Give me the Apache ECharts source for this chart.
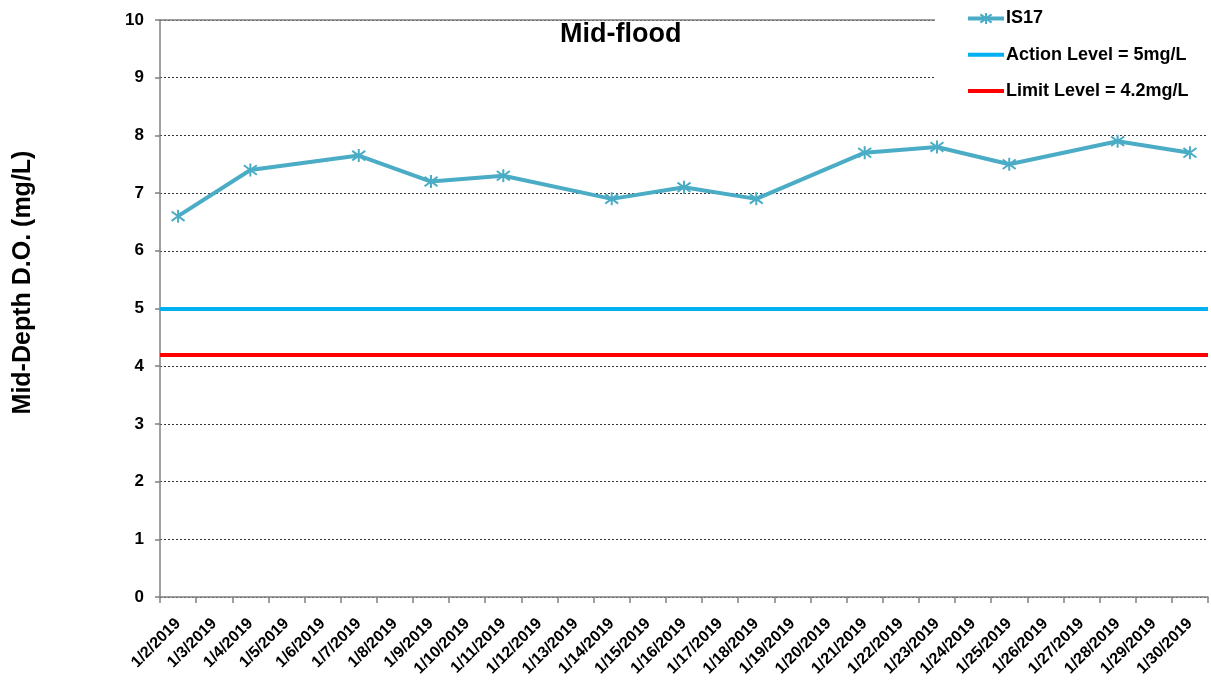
<!DOCTYPE html>
<html>
<head>
<meta charset="utf-8">
<script src="https://cdn.jsdelivr.net/npm/echarts@6/dist/echarts.min.js"></script>
<style>html,body{margin:0;padding:0;background:#fff}#c{width:1211px;height:681px}</style>
</head>
<body>
<div id="c"></div>
<script>
const categories = ['1/2/2019','1/3/2019','1/4/2019','1/5/2019','1/6/2019','1/7/2019','1/8/2019','1/9/2019','1/10/2019','1/11/2019','1/12/2019','1/13/2019','1/14/2019','1/15/2019','1/16/2019','1/17/2019','1/18/2019','1/19/2019','1/20/2019','1/21/2019','1/22/2019','1/23/2019','1/24/2019','1/25/2019','1/26/2019','1/27/2019','1/28/2019','1/29/2019','1/30/2019'];
const is17 = [6.6,null,7.4,null,null,7.65,null,7.2,null,7.3,null,null,6.9,null,7.1,null,6.9,null,null,7.7,null,7.8,null,7.5,null,null,7.9,null,7.7];
const actionLevel = 5;
const limitLevel = 4.2;
const yTicks = [0,1,2,3,4,5,6,7,8,9,10];

const FONT = '"Liberation Sans", Arial, sans-serif';
const STAR = 'path://M-4,-4 L4,4 M-4,4 L4,-4 M0,-5.5 L0,5.5';
const chart = echarts.init(document.getElementById('c'));
chart.setOption({
  animation: false,
  backgroundColor: '#fff',
  textStyle: {fontFamily: FONT},
  title: {
    text: 'Mid-flood', left: 555, top: 16,
    textStyle: {fontFamily: FONT, fontWeight: 'bold', fontSize: 27, color: '#000'}
  },
  grid: {left: 160, top: 20, right: 3, bottom: 84, containLabel: false},
  legend: {
    orient: 'vertical', left: 935, top: 0,
    padding: [9.5, 80, 14, 31],
    backgroundColor: '#fff',
    itemWidth: 36, itemHeight: 14, itemGap: 18.3,
    textStyle: {fontFamily: FONT, fontWeight: 'bold', fontSize: 18, color: '#000', padding: [0,0,0,-3]},
    data: [
      {name: 'IS17', lineStyle: {width: 4, color: '#4BACC6'}},
      {name: 'Action Level = 5mg/L', icon: 'path://M0,0 L36,0 L36,4 L0,4 Z', itemStyle: {color: '#00B0F0'}},
      {name: 'Limit Level = 4.2mg/L', icon: 'path://M0,0 L36,0 L36,4 L0,4 Z', itemStyle: {color: '#FF0000'}}
    ]
  },
  xAxis: [{
    type: 'category', data: categories, boundaryGap: true,
    axisLine: {lineStyle: {color: '#808080', width: 1.5}},
    axisTick: {show: true, length: 6, interval: 0, lineStyle: {color: '#808080', width: 1.5}},
    axisLabel: {interval: 0, rotate: 45, margin: 24, fontFamily: FONT, fontWeight: 'bold', fontSize: 16, color: '#000'}
  }, {
    type: 'category', data: categories, position: 'top',
    axisLine: {show: true, lineStyle: {color: '#808080', width: 1.5}},
    axisTick: {show: false}, axisLabel: {show: false}
  }],
  yAxis: {
    type: 'value', min: yTicks[0], max: yTicks[yTicks.length-1], interval: 1,
    name: 'Mid-Depth D.O. (mg/L)', nameLocation: 'middle', nameGap: 124, nameRotate: 90,
    nameTextStyle: {fontFamily: FONT, fontWeight: 'bold', fontSize: 25, color: '#000', padding: [0,0,0,52]},
    axisLine: {show: true, lineStyle: {color: '#808080', width: 1.5}},
    axisTick: {show: true, length: 5, lineStyle: {color: '#808080', width: 1.5}},
    axisLabel: {margin: 16, fontFamily: FONT, fontWeight: 'bold', fontSize: 17, color: '#000'},
    splitLine: {show: true, lineStyle: {color: '#000', type: [2, 2], width: 0.8}}
  },
  series: [{
    name: 'IS17', type: 'line', data: is17, connectNulls: true,
    symbol: STAR,
    symbolSize: 13,
    lineStyle: {color: '#4BACC6', width: 4},
    itemStyle: {color: '#4BACC6', borderColor: '#4BACC6', borderWidth: 2},
    z: 5
  }, {
    name: 'Action Level = 5mg/L', type: 'line', data: [], symbol: 'none',
    lineStyle: {color: '#00B0F0', width: 4}, itemStyle: {color: '#00B0F0'},
    markLine: {silent: true, symbol: 'none', label: {show: false},
      lineStyle: {color: '#00B0F0', width: 4, type: 'solid'},
      data: [{yAxis: actionLevel}]}
  }, {
    name: 'Limit Level = 4.2mg/L', type: 'line', data: [], symbol: 'none',
    lineStyle: {color: '#FF0000', width: 4}, itemStyle: {color: '#FF0000'},
    markLine: {silent: true, symbol: 'none', label: {show: false},
      lineStyle: {color: '#FF0000', width: 4, type: 'solid'},
      data: [{yAxis: limitLevel}]}
  }]
});
</script>
</body>
</html>
